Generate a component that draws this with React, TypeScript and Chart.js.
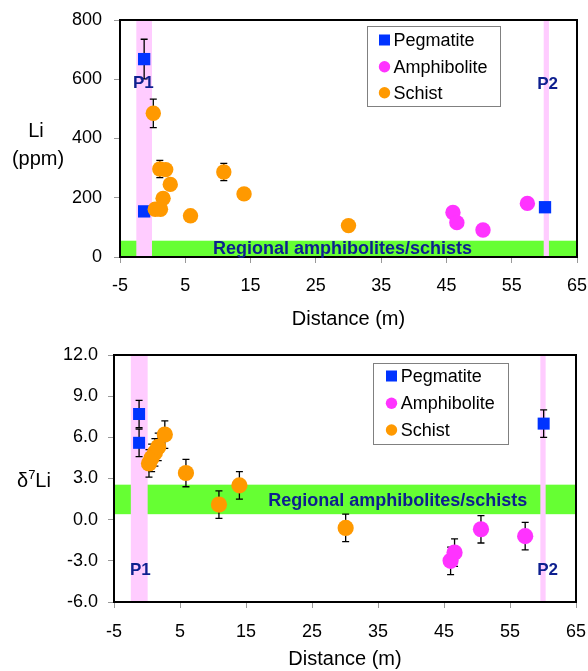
import React, { useEffect, useRef } from "react";
import { Chart, registerables } from "chart.js";

Chart.register(...registerables);

const FONT = '"Liberation Sans", Arial, Helvetica, sans-serif';
const BLUE = "#0033ff";
const MAGENTA = "#ff33ff";
const ORANGE = "#ff9900";
const GREEN = "#66ff33";
const PINK = "#ffccff";
const NAVY = "#0d1f8f";

// ---- data ----
const xTicks = [-5, 5, 15, 25, 35, 45, 55, 65];
const liTicks = [0, 200, 400, 600, 800];
const dTicks = [-6, -3, 0, 3, 6, 9, 12];

const seriesNames = ["Pegmatite", "Amphibolite", "Schist"];

// Li (ppm)
const pegLiX = [-1.3, -1.3, 60.1];
const pegLi = [668, 154, 168];
const pegLiErr = [67, 0, 0];
const amphLiX = [46.0, 46.6, 50.6, 57.4];
const amphLi = [150, 116, 91, 181];
const amphLiErr = [0, 0, 0, 0];
const schistLiX = [0.1, 0.4, 1.1, 1.2, 1.6, 2.0, 2.7, 5.8, 10.9, 14.0, 30.0];
const schistLi = [485, 161, 297, 161, 198, 295, 245, 139, 287, 213, 106];
const schistLiErr = [48, 0, 29, 0, 0, 0, 0, 0, 29, 0, 0];

// delta7Li
const pegDX = [-1.2, -1.2, 60.1];
const pegD = [7.7, 5.6, 7.0];
const pegDErr = [1.0, 1.0, 1.0];
const amphDX = [46.0, 46.6, 50.6, 57.3];
const amphD = [-3.0, -2.4, -0.7, -1.2];
const amphDErr = [1.0, 1.0, 1.0, 1.0];
const schistDX = [0.3, 0.7, 1.2, 1.7, 2.7, 5.9, 10.9, 14.0, 30.1];
const schistD = [4.1, 4.5, 4.9, 5.3, 6.2, 3.4, 1.1, 2.5, -0.6];
const schistDErr = [1.0, 1.0, 1.0, 1.0, 1.0, 1.0, 1.0, 1.0, 1.0];

const pts = (xs: number[], ys: number[]) => xs.map((x, i) => ({ x, y: ys[i] }));

function overlayPlugin(o: any) {
  return {
    id: "overlay",
    beforeDatasetsDraw(chart: any) {
      const { ctx, chartArea: a, scales } = chart;
      const x = scales.x, y = scales.y;
      ctx.save();
      ctx.fillStyle = GREEN;
      const g1 = y.getPixelForValue(o.green[1]);
      const g0 = y.getPixelForValue(o.green[0]);
      ctx.fillRect(a.left, g1, a.right - a.left, g0 - g1);
      ctx.fillStyle = PINK;
      for (const [b0, b1] of o.pink) {
        const p0 = x.getPixelForValue(b0), p1 = x.getPixelForValue(b1);
        ctx.fillRect(p0, a.top, p1 - p0, a.bottom - a.top);
      }
      ctx.strokeStyle = "#000";
      ctx.lineWidth = 1.3;
      chart.data.datasets.forEach((ds: any, i: number) => {
        const meta = chart.getDatasetMeta(i);
        const errs = ds.errors || [];
        meta.data.forEach((pt: any, j: number) => {
          const e = errs[j];
          if (!e) return;
          const v = ds.data[j].y;
          const yt = y.getPixelForValue(v + e);
          const yb = y.getPixelForValue(v - e);
          ctx.beginPath();
          ctx.moveTo(pt.x, yt); ctx.lineTo(pt.x, yb);
          ctx.moveTo(pt.x - 3.5, yt); ctx.lineTo(pt.x + 3.5, yt);
          ctx.moveTo(pt.x - 3.5, yb); ctx.lineTo(pt.x + 3.5, yb);
          ctx.stroke();
        });
      });
      ctx.restore();
    },
    afterDatasetsDraw(chart: any) {
      const { ctx, chartArea: a, scales } = chart;
      const x = scales.x, y = scales.y;
      ctx.save();
      // frame
      ctx.strokeStyle = "#000";
      ctx.lineWidth = 2;
      ctx.strokeRect(a.left, a.top, a.right - a.left, a.bottom - a.top);
      // labels
      ctx.fillStyle = NAVY;
      for (const l of o.labels) {
        ctx.font = `bold ${l.size}px ${FONT}`;
        ctx.textAlign = "center";
        ctx.textBaseline = l.baseline;
        ctx.fillText(l.text, x.getPixelForValue(l.x), y.getPixelForValue(l.y));
      }
      // legend
      const lg = o.legend;
      ctx.fillStyle = "#fff";
      ctx.fillRect(lg.x0, lg.y0, lg.x1 - lg.x0, lg.y1 - lg.y0);
      ctx.strokeStyle = "#808080";
      ctx.lineWidth = 1;
      ctx.strokeRect(lg.x0 + 0.5, lg.y0 + 0.5, lg.x1 - lg.x0, lg.y1 - lg.y0);
      ctx.font = `18px ${FONT}`;
      ctx.textAlign = "left";
      ctx.textBaseline = "middle";
      chart.data.datasets.forEach((ds: any, i: number) => {
        const cy = lg.rows[i];
        ctx.fillStyle = ds.backgroundColor;
        if (ds.pointStyle === "rect") {
          ctx.fillRect(lg.mx - 5.5, cy - 5.5, 11, 11);
        } else {
          ctx.beginPath();
          ctx.arc(lg.mx, cy, 5.7, 0, Math.PI * 2);
          ctx.fill();
        }
        ctx.fillStyle = "#000";
        ctx.fillText(ds.label, lg.tx, cy + 1);
      });
      // y title
      ctx.fillStyle = "#000";
      o.yTitle(ctx);
      ctx.restore();
    },
  };
}

function makeChart(canvas: HTMLCanvasElement, c: any) {
  return new Chart(canvas, {
    type: "scatter",
    data: {
      datasets: [
        {
          label: seriesNames[0], data: pts(c.peg[0], c.peg[1]), errors: c.peg[2],
          pointStyle: "rect", pointRadius: c.sqR, backgroundColor: BLUE, borderWidth: 0, order: 2,
        },
        {
          label: seriesNames[1], data: pts(c.amph[0], c.amph[1]), errors: c.amph[2],
          pointStyle: "circle", pointRadius: c.cR, backgroundColor: MAGENTA, borderWidth: 0, order: 1,
        },
        {
          label: seriesNames[2], data: pts(c.sch[0], c.sch[1]), errors: c.sch[2],
          pointStyle: "circle", pointRadius: c.cR, backgroundColor: ORANGE, borderWidth: 0, order: 0,
        },
      ] as any,
    },
    options: {
      responsive: false,
      animation: false,
      devicePixelRatio: 1,
      layout: { padding: { top: c.padTop, right: c.padRight, left: 0, bottom: 0 } },
      plugins: { legend: { display: false }, tooltip: { enabled: false } },
      scales: {
        x: {
          type: "linear", min: -5, max: 65,
          afterBuildTicks: (s: any) => { s.ticks = xTicks.map((v) => ({ value: v })); },
          afterFit: (s: any) => { s.height = c.xH; s.paddingLeft = 0; s.paddingRight = 0; },
          ticks: { font: { family: FONT, size: 18 }, color: "#000", padding: c.xTickPad, maxRotation: 0, autoSkip: false },
          grid: { display: true, drawOnChartArea: false, drawTicks: true, tickLength: 6, color: "#999" },
          border: { display: true, color: "#000", width: 2 },
          title: { display: true, text: "Distance (m)", font: { family: FONT, size: 20 }, color: "#000", padding: { top: 0, bottom: c.xTitlePad } },
        },
        y: {
          type: "linear", min: c.yMin, max: c.yMax,
          afterBuildTicks: (s: any) => { s.ticks = c.yTicks.map((v: number) => ({ value: v })); },
          afterFit: (s: any) => { s.width = c.yW; s.paddingTop = 0; s.paddingBottom = 0; },
          ticks: { font: { family: FONT, size: 18 }, color: "#000", padding: c.yTickPad, autoSkip: false, callback: c.yFmt },
          grid: { display: true, drawOnChartArea: false, drawTicks: true, tickLength: 6, color: "#999" },
          border: { display: true, color: "#000", width: 2 },
        },
      },
    } as any,
    plugins: [overlayPlugin(c.overlay)],
  });
}

const topCfg = {
  peg: [pegLiX, pegLi, pegLiErr], amph: [amphLiX, amphLi, amphLiErr], sch: [schistLiX, schistLi, schistLiErr],
  sqR: 8.7, cR: 7.7, padTop: 20, padRight: 11, xH: 83, yW: 120, xTickPad: 12, xTitlePad: 9, yTickPad: 12,
  yMin: 0, yMax: 800, yTicks: liTicks, yFmt: (v: number) => String(v),
  overlay: {
    green: [0, 55],
    pink: [[-2.5, -0.1], [59.9, 60.7]],
    labels: [
      { text: "P1", x: -1.43, y: 587, size: 17, baseline: "middle" },
      { text: "P2", x: 60.5, y: 583, size: 17, baseline: "middle" },
      { text: "Regional amphibolites/schists", x: 29.07, y: 10, size: 18, baseline: "alphabetic" },
    ],
    legend: { x0: 367, y0: 26, x1: 500, y1: 106, rows: [40, 66.7, 92.7], mx: 384.5, tx: 393.5 },
    yTitle: (ctx: CanvasRenderingContext2D) => {
      ctx.font = `20px ${FONT}`;
      ctx.textAlign = "center";
      ctx.textBaseline = "middle";
      ctx.fillText("Li", 36, 131);
      ctx.fillText("(ppm)", 38, 159);
    },
  },
};

const botCfg = {
  peg: [pegDX, pegD, pegDErr], amph: [amphDX, amphD, amphDErr], sch: [schistDX, schistD, schistDErr],
  sqR: 8.5, cR: 8.1, padTop: 15, padRight: 12, xH: 69, yW: 114, xTickPad: 13, xTitlePad: 0, yTickPad: 10,
  yMin: -6, yMax: 12, yTicks: dTicks, yFmt: (v: number) => v.toFixed(1),
  overlay: {
    green: [0.4, 2.55],
    pink: [[-2.45, 0.1], [59.6, 60.4]],
    labels: [
      { text: "P1", x: -1.0, y: -3.72, size: 17, baseline: "middle" },
      { text: "P2", x: 60.7, y: -3.72, size: 17, baseline: "middle" },
      { text: "Regional amphibolites/schists", x: 38.0, y: 1.02, size: 18, baseline: "alphabetic" },
    ],
    legend: { x0: 373, y0: 23, x1: 508, y1: 104, rows: [36, 63.3, 90], mx: 391.5, tx: 400.7 },
    yTitle: (ctx: CanvasRenderingContext2D) => {
      ctx.textAlign = "left";
      ctx.textBaseline = "alphabetic";
      let px = 17;
      const base = 147;
      ctx.font = `20px ${FONT}`;
      ctx.fillText("\u03b4", px, base);
      px += ctx.measureText("\u03b4").width;
      ctx.font = `13px ${FONT}`;
      ctx.fillText("7", px, base - 8);
      px += ctx.measureText("7").width;
      ctx.font = `20px ${FONT}`;
      ctx.fillText("Li", px, base);
    },
  },
};

function ChartCanvas({ cfg, top, height }: { cfg: any; top: number; height: number }) {
  const ref = useRef<HTMLCanvasElement>(null);
  useEffect(() => {
    if (!ref.current) return;
    const ch = makeChart(ref.current, cfg);
    return () => ch.destroy();
  }, [cfg]);
  return (
    <canvas
      ref={ref}
      width={588}
      height={height}
      style={{ position: "absolute", left: 0, top, width: 588, height, display: "block" }}
    />
  );
}

export default function App() {
  return (
    <div style={{ position: "absolute", left: 0, top: 0, width: 588, height: 671, background: "#fff", overflow: "hidden" }}>
      <ChartCanvas cfg={topCfg} top={0} height={340} />
      <ChartCanvas cfg={botCfg} top={340} height={331} />
    </div>
  );
}
